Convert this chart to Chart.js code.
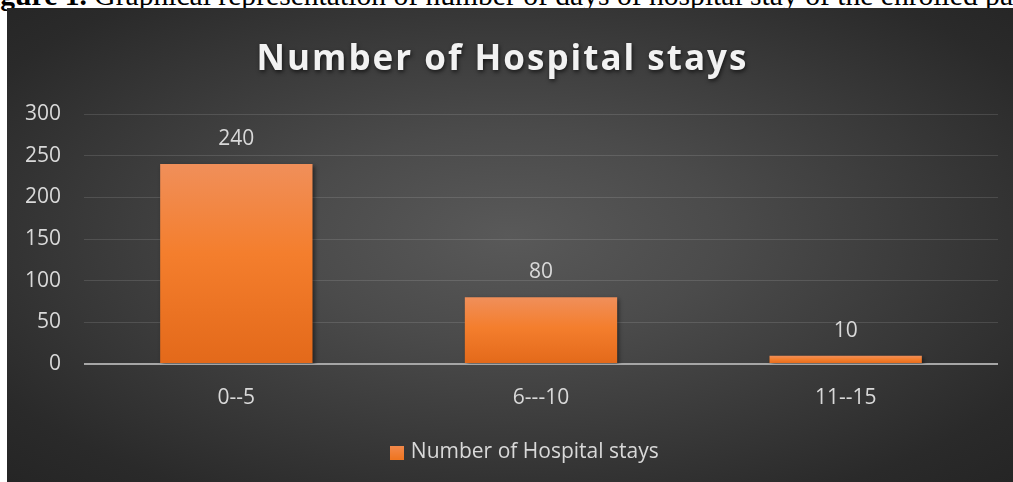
<!DOCTYPE html>
<html>
<head>
<meta charset="utf-8">
<script src="https://cdn.jsdelivr.net/npm/chart.js@4/dist/chart.umd.min.js"></script>
<style>
  html, body { margin: 0; padding: 0; background: #ffffff; width: 1013px; height: 482px; overflow: hidden; }
  #caption { position: absolute; left: -26px; top: -20.5px; font-family: "Liberation Serif", "Times New Roman", serif; font-size: 29.6px; line-height: 30px; white-space: nowrap; color: #000; }
  #caption b { font-weight: bold; }
  #wrap { position: absolute; left: 7px; top: 8px; width: 1006px; height: 474px;
    background: radial-gradient(ellipse farthest-corner at 50% 48%, #595959 0%, #4b4b4b 30%, #2a2a2a 85%, #252525 100%); }
  canvas { display: block; }
</style>
</head>
<body>
<div id="caption"><b>Figure 1.</b> Graphical representation of number of days of hospital stay of the enrolled patients</div>
<div id="wrap"><canvas id="c" width="1006" height="474"></canvas></div>
<script>
const categories = ["0--5", "6---10", "11--15"];
const stays = [240, 80, 10];
const yTicks = [0, 50, 100, 150, 200, 250, 300];
const seriesName = "Number of Hospital stays";
const titleText = "Number of Hospital stays";

const textColor = "#d9d9d9";
const baseFont = "'Open Sans', 'Noto Sans', sans-serif";

// legend swatch as a small canvas (used as point style)
const swatch = document.createElement('canvas');
swatch.width = 14; swatch.height = 14;
(function () {
  const s = swatch.getContext('2d');
  const g = s.createLinearGradient(0, 0, 0, 14);
  g.addColorStop(0, '#f38a4d');
  g.addColorStop(1, '#ef7520');
  s.fillStyle = g;
  s.fillRect(0, 0, 14, 14);
})();

function barFill(ctx) {
  const chart = ctx.chart;
  if (!chart.chartArea || ctx.type !== 'data') return '#f47f30';
  const y = chart.scales.y;
  const v = ctx.parsed ? ctx.parsed.y : ctx.raw;
  const top = y.getPixelForValue(v);
  const base = y.getPixelForValue(0);
  if (!isFinite(top) || !isFinite(base) || top === base) return '#f47f30';
  const g = chart.ctx.createLinearGradient(0, top, 0, base);
  g.addColorStop(0, '#f08f5a');
  g.addColorStop(0.45, '#f47e2d');
  g.addColorStop(1, '#e3691a');
  return g;
}

const barDecor = {
  id: 'barDecor',
  afterLayout(chart) {
    const t = chart.titleBlock;
    if (t && !t._patched) {
      const orig = t.draw.bind(t);
      t.draw = function () {
        const c = chart.ctx;
        c.save();
        c.letterSpacing = '2px';
        c.shadowColor = 'rgba(0,0,0,0.65)';
        c.shadowBlur = 4;
        c.shadowOffsetX = 1;
        c.shadowOffsetY = 2;
        orig();
        c.restore();
      };
      t._patched = true;
    }
    const l = chart.legend;
    if (l && !l._patched) {
      const origL = l.draw.bind(l);
      l.draw = function () {
        const c = chart.ctx;
        c.save();
        c.translate(24, 3);
        origL();
        c.restore();
      };
      l._patched = true;
    }
  },
  beforeDatasetsDraw(chart) {
    const c = chart.ctx;
    c.save();
    c.shadowColor = 'rgba(0,0,0,0.45)';
    c.shadowBlur = 4;
    c.shadowOffsetX = 2;
    c.shadowOffsetY = 2;
  },
  afterDatasetsDraw(chart) {
    const c = chart.ctx;
    c.restore();
    c.save();
    c.font = "21px " + baseFont;
    c.fillStyle = textColor;
    c.textAlign = 'center';
    c.textBaseline = 'middle';
    const meta = chart.getDatasetMeta(0);
    meta.data.forEach((bar, i) => {
      c.fillText(String(chart.data.datasets[0].data[i]), bar.x, bar.y - 25);
    });
    c.restore();
  }
};

new Chart(document.getElementById('c'), {
  type: 'bar',
  data: {
    labels: categories,
    datasets: [{
      label: seriesName,
      data: stays,
      backgroundColor: barFill,
      borderWidth: 0,
      categoryPercentage: 0.5,
      barPercentage: 1.0
    }]
  },
  options: {
    responsive: false,
    animation: false,
    devicePixelRatio: 1,
    layout: { padding: { top: 10, right: 15, bottom: 12, left: 0 } },
    plugins: {
      title: {
        display: true,
        text: titleText,
        color: '#f2f2f2',
        font: { family: baseFont, size: 35, weight: 'bold', lineHeight: 1.2 },
        padding: { top: 21.5, bottom: 32.5 }
      },
      legend: {
        display: true,
        position: 'bottom',
        labels: {
          color: textColor,
          font: { family: baseFont, size: 21 },
          usePointStyle: true,
          pointStyleWidth: 6,
          boxWidth: 6,
          boxHeight: 14,
          padding: 10,
          generateLabels(chart) {
            return [{ text: seriesName, fillStyle: '#f47f30', strokeStyle: '#f47f30', lineWidth: 0, pointStyle: swatch, datasetIndex: 0, fontColor: textColor }];
          }
        }
      },
      tooltip: { enabled: false }
    },
    scales: {
      x: {
        grid: { display: false, drawTicks: false },
        border: { display: false },
        ticks: { color: textColor, font: { family: baseFont, size: 21 }, padding: 21 },
        afterFit(scale) { scale.height = 65; }
      },
      y: {
        min: 0, max: 300,
        afterBuildTicks(scale) { scale.ticks = yTicks.map(v => ({ value: v })); },
        grid: {
          drawTicks: false,
          color: (ctx) => ctx.tick && ctx.tick.value === 0 ? '#a6a6a6' : 'rgba(255,255,255,0.12)',
          lineWidth: (ctx) => ctx.tick && ctx.tick.value === 0 ? 2 : 1
        },
        border: { display: false },
        ticks: { color: textColor, font: { family: baseFont, size: 21 }, padding: 23 },
        afterFit(scale) { scale.width = 77; }
      }
    }
  },
  plugins: [barDecor]
});
</script>
</body>
</html>
